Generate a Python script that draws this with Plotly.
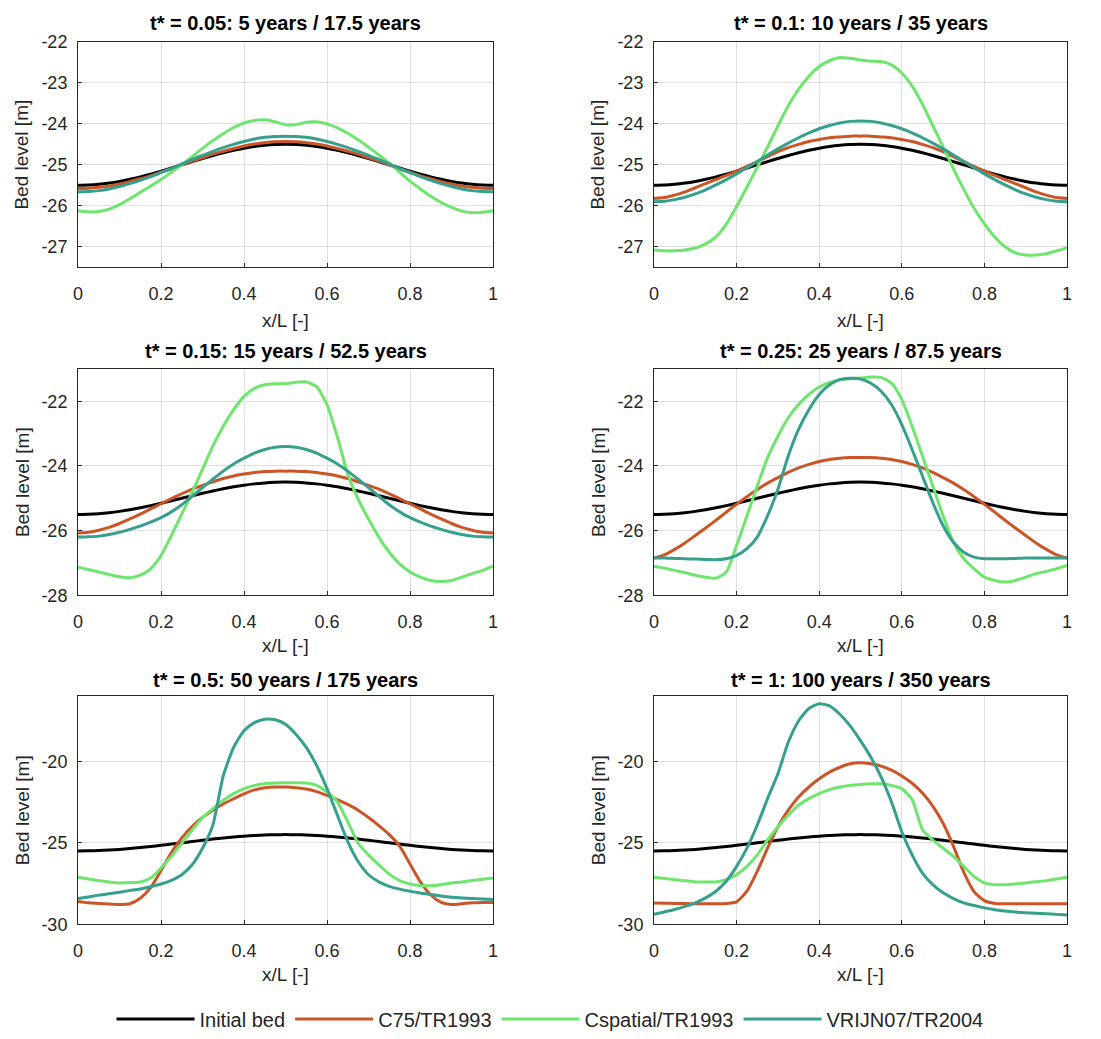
import plotly.graph_objects as go
from plotly.subplots import make_subplots

# ---------------- data ----------------
x = [0.0, 0.025, 0.05, 0.075, 0.1, 0.125, 0.15, 0.175, 0.2, 0.225, 0.25, 0.275, 0.3, 0.325, 0.35,
     0.375, 0.4, 0.425, 0.45, 0.475, 0.5, 0.525, 0.55, 0.575, 0.6, 0.625, 0.65, 0.675, 0.7, 0.725,
     0.75, 0.775, 0.8, 0.825, 0.85, 0.875, 0.9, 0.925, 0.95, 0.975, 1.0]

initial_bed = [-25.5, -25.494, -25.476, -25.446, -25.405, -25.354, -25.294, -25.227, -25.155, -25.078,
               -25.0, -24.922, -24.845, -24.773, -24.706, -24.646, -24.595, -24.554, -24.524, -24.506,
               -24.5, -24.506, -24.524, -24.554, -24.595, -24.646, -24.706, -24.773, -24.845, -24.922,
               -25.0, -25.078, -25.155, -25.227, -25.294, -25.354, -25.405, -25.446, -25.476, -25.494, -25.5]

# panel 1: t* = 0.05
p1_c75 = [-25.58, -25.57, -25.55, -25.52, -25.47, -25.41, -25.34, -25.27, -25.18, -25.1, -25.0, -24.91,
          -24.83, -24.74, -24.67, -24.6, -24.54, -24.49, -24.46, -24.44, -24.43, -24.44, -24.46, -24.49,
          -24.54, -24.6, -24.67, -24.74, -24.83, -24.91, -25.0, -25.1, -25.18, -25.27, -25.34, -25.41,
          -25.47, -25.52, -25.55, -25.57, -25.58]
p1_csp = [-26.12, -26.15, -26.14, -26.08, -25.97, -25.83, -25.67, -25.52, -25.36, -25.18, -25.0, -24.8,
          -24.6, -24.41, -24.24, -24.09, -23.98, -23.92, -23.9, -23.95, -24.02, -24.02, -23.96, -23.95,
          -24.0, -24.1, -24.23, -24.39, -24.57, -24.76, -24.96, -25.18, -25.4, -25.59, -25.77, -25.92,
          -26.04, -26.13, -26.17, -26.16, -26.12]
p1_vr = [-25.66, -25.65, -25.63, -25.59, -25.53, -25.46, -25.38, -25.29, -25.19, -25.09, -24.98, -24.87,
         -24.77, -24.67, -24.58, -24.5, -24.43, -24.37, -24.33, -24.31, -24.3, -24.31, -24.33, -24.37,
         -24.43, -24.5, -24.58, -24.67, -24.77, -24.87, -24.98, -25.09, -25.19, -25.29, -25.38, -25.46,
         -25.53, -25.59, -25.63, -25.65, -25.66]

# panel 2: t* = 0.1
p2_c75 = [-25.82, -25.8, -25.74, -25.66, -25.56, -25.46, -25.36, -25.26, -25.15, -25.04, -24.92, -24.8,
          -24.68, -24.58, -24.5, -24.43, -24.38, -24.34, -24.32, -24.3, -24.3, -24.3, -24.32, -24.34,
          -24.38, -24.43, -24.5, -24.58, -24.68, -24.8, -24.92, -25.04, -25.15, -25.26, -25.36, -25.46,
          -25.56, -25.66, -25.74, -25.8, -25.82]
p2_csp = [-27.08, -27.1, -27.1, -27.08, -27.03, -26.93, -26.76, -26.45, -26.02, -25.54, -25.06, -24.56,
          -24.05, -23.56, -23.16, -22.84, -22.6, -22.46, -22.38, -22.4, -22.44, -22.47, -22.48, -22.56,
          -22.76, -23.08, -23.52, -24.04, -24.56, -25.1, -25.6, -26.06, -26.44, -26.76, -27.0, -27.15,
          -27.2, -27.2, -27.17, -27.1, -27.02]
p2_vr = [-25.9, -25.89, -25.85, -25.79, -25.71, -25.61, -25.49, -25.36, -25.22, -25.07, -24.92, -24.76,
         -24.61, -24.47, -24.34, -24.22, -24.12, -24.04, -23.98, -23.94, -23.93, -23.94, -23.98, -24.04,
         -24.12, -24.22, -24.34, -24.47, -24.61, -24.76, -24.92, -25.07, -25.22, -25.36, -25.49, -25.61,
         -25.71, -25.79, -25.85, -25.89, -25.9]

# panel 3: t* = 0.15
p3_c75 = [-26.07, -26.05, -25.99, -25.9, -25.78, -25.64, -25.49, -25.33, -25.17, -25.01, -24.86, -24.72,
          -24.6, -24.49, -24.39, -24.31, -24.25, -24.2, -24.17, -24.16, -24.16, -24.16, -24.17, -24.2,
          -24.25, -24.31, -24.39, -24.49, -24.6, -24.72, -24.86, -25.01, -25.17, -25.33, -25.49, -25.64,
          -25.78, -25.9, -25.99, -26.05, -26.07]
p3_csp = [-27.13, -27.2, -27.28, -27.36, -27.43, -27.46, -27.38, -27.18, -26.77, -26.15, -25.49, -24.82,
          -24.1, -23.38, -22.77, -22.26, -21.85, -21.6, -21.49, -21.46, -21.46, -21.41, -21.4, -21.55,
          -22.1, -23.1, -24.25, -25.03, -25.64, -26.2, -26.67, -27.03, -27.28, -27.44, -27.54, -27.57,
          -27.54, -27.44, -27.33, -27.23, -27.1]
p3_vr = [-26.2, -26.19, -26.17, -26.12, -26.05, -25.96, -25.86, -25.74, -25.6, -25.42, -25.2, -24.94,
         -24.67, -24.41, -24.16, -23.94, -23.76, -23.6, -23.49, -23.42, -23.4, -23.42, -23.49, -23.6,
         -23.76, -23.94, -24.16, -24.41, -24.67, -24.94, -25.2, -25.42, -25.6, -25.74, -25.86, -25.96,
         -26.05, -26.12, -26.17, -26.19, -26.2]

# panel 4: t* = 0.25
p4_c75 = [-26.85, -26.75, -26.58, -26.38, -26.15, -25.92, -25.68, -25.43, -25.18, -24.95, -24.73, -24.53,
          -24.36, -24.2, -24.06, -23.95, -23.86, -23.8, -23.76, -23.74, -23.74, -23.74, -23.76, -23.8,
          -23.86, -23.95, -24.06, -24.2, -24.36, -24.53, -24.73, -24.95, -25.18, -25.43, -25.68, -25.92,
          -26.15, -26.38, -26.58, -26.75, -26.85]
p4_csp = [-27.1, -27.16, -27.23, -27.3, -27.38, -27.44, -27.47, -27.28, -26.46, -25.54, -24.62, -23.74,
          -23.08, -22.51, -22.1, -21.79, -21.56, -21.42, -21.33, -21.3, -21.28, -21.25, -21.26, -21.44,
          -21.95, -22.77, -23.69, -24.62, -25.54, -26.36, -26.87, -27.18, -27.44, -27.54, -27.59, -27.54,
          -27.44, -27.33, -27.26, -27.18, -27.08]
p4_vr = [-26.85, -26.85, -26.86, -26.87, -26.88, -26.89, -26.9, -26.87, -26.77, -26.56, -26.2, -25.54,
         -24.72, -23.69, -22.87, -22.26, -21.79, -21.49, -21.33, -21.29, -21.31, -21.44, -21.69, -22.1,
         -22.72, -23.49, -24.31, -25.13, -25.85, -26.36, -26.67, -26.82, -26.87, -26.87, -26.87, -26.86,
         -26.85, -26.85, -26.85, -26.85, -26.85]

# panel 5: t* = 0.5
p5_c75 = [-28.6, -28.68, -28.72, -28.76, -28.78, -28.74, -28.4, -27.75, -26.7, -25.6, -24.7, -24.0,
          -23.45, -23.0, -22.62, -22.3, -22.0, -21.76, -21.63, -21.58, -21.58, -21.62, -21.7, -21.86,
          -22.09, -22.35, -22.65, -23.0, -23.45, -23.95, -24.5, -25.2, -26.3, -27.4, -28.2, -28.65,
          -28.78, -28.74, -28.68, -28.66, -28.66]
p5_csp = [-27.12, -27.22, -27.32, -27.4, -27.46, -27.44, -27.4, -27.16, -26.55, -25.84, -25.03, -24.22,
          -23.47, -22.9, -22.39, -21.99, -21.68, -21.48, -21.38, -21.34, -21.32, -21.32, -21.34, -21.48,
          -21.89, -22.49, -23.71, -25.03, -25.74, -26.35, -26.92, -27.32, -27.53, -27.63, -27.63, -27.57,
          -27.46, -27.4, -27.32, -27.24, -27.16]
p5_vr = [-28.42, -28.32, -28.21, -28.12, -28.03, -27.93, -27.83, -27.7, -27.53, -27.3, -26.96, -26.35,
         -25.34, -23.91, -20.9, -19.15, -18.13, -17.63, -17.42, -17.46, -17.73, -18.34, -19.15, -20.26,
         -21.68, -23.31, -24.93, -26.15, -26.96, -27.4, -27.67, -27.84, -27.97, -28.08, -28.17, -28.26,
         -28.34, -28.38, -28.42, -28.45, -28.48]

# panel 6: t* = 1
p6_c75 = [-28.7, -28.71, -28.72, -28.73, -28.74, -28.74, -28.74, -28.72, -28.62, -27.97, -26.75, -25.33,
          -24.02, -23.0, -22.19, -21.58, -21.08, -20.67, -20.37, -20.16, -20.1, -20.16, -20.3, -20.55,
          -20.9, -21.35, -21.95, -22.75, -23.8, -25.2, -26.8, -28.0, -28.55, -28.72, -28.74, -28.74,
          -28.74, -28.74, -28.74, -28.74, -28.74]
p6_csp = [-27.12, -27.19, -27.26, -27.33, -27.4, -27.41, -27.4, -27.26, -26.96, -26.45, -25.74, -24.83,
          -24.02, -23.31, -22.7, -22.29, -21.99, -21.74, -21.58, -21.48, -21.42, -21.38, -21.38, -21.48,
          -21.68, -22.35, -24.2, -24.83, -25.33, -25.84, -26.45, -27.06, -27.46, -27.57, -27.57, -27.52,
          -27.46, -27.39, -27.32, -27.22, -27.12]
p6_vr = [-29.39, -29.24, -29.09, -28.9, -28.68, -28.38, -27.97, -27.36, -26.45, -25.33, -23.91, -22.29,
         -20.77, -18.84, -17.53, -16.77, -16.47, -16.61, -17.12, -17.83, -18.74, -19.76, -20.97, -22.49,
         -24.32, -25.74, -26.86, -27.57, -28.07, -28.42, -28.68, -28.85, -28.99, -29.1, -29.19, -29.25,
         -29.29, -29.32, -29.35, -29.39, -29.43]

titles = ["t* = 0.05: 5 years / 17.5 years", "t* = 0.1: 10 years / 35 years",
          "t* = 0.15: 15 years / 52.5 years", "t* = 0.25: 25 years / 87.5 years",
          "t* = 0.5: 50 years / 175 years", "t* = 1: 100 years / 350 years"]
series_names = ["Initial bed", "C75/TR1993", "Cspatial/TR1993", "VRIJN07/TR2004"]
panels = [(p1_c75, p1_csp, p1_vr), (p2_c75, p2_csp, p2_vr), (p3_c75, p3_csp, p3_vr),
          (p4_c75, p4_csp, p4_vr), (p5_c75, p5_csp, p5_vr), (p6_c75, p6_csp, p6_vr)]
y_ranges = [[-27.5, -22], [-27.5, -22], [-28, -21], [-28, -21], [-30, -16], [-30, -16]]
y_ticks = [[-27, -26, -25, -24, -23, -22], [-27, -26, -25, -24, -23, -22],
           [-28, -26, -24, -22], [-28, -26, -24, -22], [-30, -25, -20], [-30, -25, -20]]
x_ticks = [0, 0.2, 0.4, 0.6, 0.8, 1]
x_ticklabels = ["0", "0.2", "0.4", "0.6", "0.8", "1"]
x_label = "x/L [-]"
y_label = "Bed level [m]"

colors = ["#000000", "#CC5528", "#6EE66E", "#35A08C"]

# ---------------- figure ----------------
# the page body has an 8 px default margin, so work in window pixels minus 8
OFF = 8
W, H = 1101 - OFF, 1039 - OFF
FONT = "Arial, 'Liberation Sans', sans-serif"
TXT = "#262626"
fig = make_subplots(rows=3, cols=2)

col_px = [(78 - OFF, 493 - OFF), (654 - OFF, 1067 - OFF)]
row_px = [(42 - OFF, 268 - OFF), (370 - OFF, 597 - OFF), (698 - OFF, 927 - OFF)]
title_y = [23 - OFF, 352 - OFF, 682 - OFF]
ylabel_x = [22 - OFF, 598 - OFF]
xlabel_y = [321 - OFF, 647 - OFF, 977 - OFF]
legend_y = 1022 - OFF
legend_xc = 550 - OFF

for i, (c75, csp, vr) in enumerate(panels):
    r, c = i // 2 + 1, i % 2 + 1
    for j, ys in enumerate([initial_bed, c75, csp, vr]):
        fig.add_trace(go.Scatter(x=x, y=ys, mode="lines", name=series_names[j],
                                 line=dict(color=colors[j], width=3, shape="spline", smoothing=0.6),
                                 showlegend=(i == 0), legendgroup=series_names[j]),
                      row=r, col=c)
    x0, x1 = col_px[c - 1]
    y0, y1 = row_px[r - 1]
    axn = "" if i == 0 else str(i + 1)
    fig.layout["xaxis" + axn].update(
        domain=[x0 / W, x1 / W], range=[0, 1], tickvals=x_ticks, ticktext=x_ticklabels,
        automargin=False, showgrid=True, gridcolor="#e0e0e0", gridwidth=1, zeroline=False,
        showline=True, linecolor=TXT, linewidth=1, mirror=True,
        ticks="inside", ticklen=4, tickcolor=TXT, ticklabelstandoff=10,
        tickfont=dict(family=FONT, size=18, color=TXT))
    fig.layout["yaxis" + axn].update(
        domain=[1 - y1 / H, 1 - y0 / H], range=y_ranges[i], tickvals=y_ticks[i],
        ticktext=[str(v) for v in y_ticks[i]],
        automargin=False, showgrid=True, gridcolor="#e0e0e0", gridwidth=1, zeroline=False,
        showline=True, linecolor=TXT, linewidth=1, mirror=True,
        ticks="inside", ticklen=4, tickcolor=TXT, ticklabelstandoff=6,
        tickfont=dict(family=FONT, size=18, color=TXT))
    # panel title
    fig.add_annotation(text="<b>" + titles[i] + "</b>", xref="paper", yref="paper",
                       x=(x0 + x1) / 2 / W, y=1 - title_y[r - 1] / H, xanchor="center", yanchor="middle",
                       showarrow=False, font=dict(family=FONT, size=20, color="#000000"))
    # axis titles
    fig.add_annotation(text=x_label, xref="paper", yref="paper",
                       x=(x0 + x1) / 2 / W, y=1 - xlabel_y[r - 1] / H, xanchor="center", yanchor="middle",
                       showarrow=False, font=dict(family=FONT, size=19, color=TXT))
    fig.add_annotation(text=y_label, xref="paper", yref="paper", textangle=-90,
                       x=ylabel_x[c - 1] / W, y=1 - (y0 + y1) / 2 / H, xanchor="center", yanchor="middle",
                       showarrow=False, font=dict(family=FONT, size=19, color=TXT))

fig.update_layout(
    width=W, height=H, margin=dict(l=0, r=0, t=0, b=0),
    paper_bgcolor="white", plot_bgcolor="white",
    legend=dict(orientation="h", x=legend_xc / W, xanchor="center", y=1 - legend_y / H, yanchor="middle",
                font=dict(family=FONT, size=20, color=TXT), itemwidth=78,
                bgcolor="rgba(0,0,0,0)", tracegroupgap=0),
)

fig.write_html("out.html")
